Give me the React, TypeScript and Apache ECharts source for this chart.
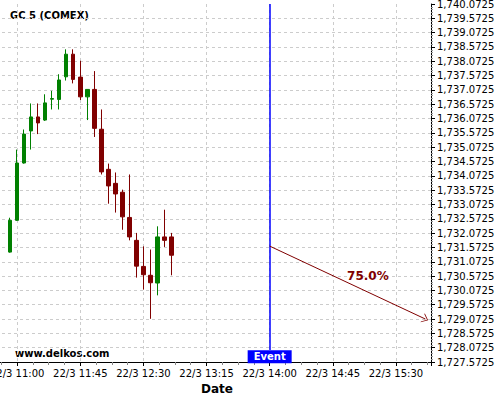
import React, { useEffect, useRef } from "react";
import * as echarts from "echarts";

// 5-minute candles, times on 22/3
const times = ["10:55","11:00","11:05","11:10","11:15","11:20","11:25","11:30","11:35","11:40","11:45","11:50","11:55","12:00","12:05","12:10","12:15","12:20","12:25","12:30","12:35","12:40","12:45","12:50"];
const opens  = [1731.41,1732.52,1734.52,1735.64,1736.13,1736.02,1736.75,1736.74,1737.53,1738.32,1737.52,1736.83,1737.09,1735.70,1734.30,1733.81,1733.50,1732.62,1731.82,1730.91,1730.60,1730.33,1731.94,1731.94];
const closes = [1732.52,1734.52,1735.53,1736.13,1735.92,1736.62,1736.77,1737.42,1738.32,1737.44,1736.83,1737.09,1735.73,1734.21,1733.72,1733.44,1732.64,1731.94,1730.92,1730.62,1730.34,1731.94,1731.82,1731.30];
const lows   = [1731.39,1732.50,1734.50,1734.99,1735.53,1735.99,1736.39,1736.39,1737.40,1737.30,1736.72,1736.02,1735.43,1734.12,1733.10,1732.79,1732.19,1731.82,1730.52,1730.10,1729.08,1729.90,1731.59,1730.60];
const highs  = [1732.61,1734.99,1735.69,1736.60,1736.60,1736.92,1737.04,1737.62,1738.49,1738.49,1738.09,1737.09,1737.73,1736.39,1734.50,1734.19,1733.59,1734.12,1732.08,1731.61,1731.50,1732.31,1732.89,1732.08];

// axis
const yMinPrice = 1727.5725;
const yMaxPrice = 1740.0725;
const yStep = 0.5;
const xStartTime = "10:15";
const xEndTime = "15:55";
const xStepMinutes = 45;
const datePrefix = "22/3 ";

// annotations
const eventTime = "14:00";
const eventLabel = "Event";
const arrowStart = { time: "14:00", price: 1731.62 };
const arrowEnd = { time: "15:51", price: 1729.0725 };
const forecastLabel = "75.0%";
const forecastLabelPos = { time: "15:10", price: 1730.59 };
const titleText = "GC 5 (COMEX)";
const siteText = "www.delkos.com";
const xAxisName = "Date";

const REF = 11 * 60; // 11:00 as x origin
const toMin = (t: string) => {
  const [h, m] = t.split(":").map(Number);
  return h * 60 + m - REF;
};
const fromMin = (v: number) => {
  const t = Math.round(v) + REF;
  const h = Math.floor(t / 60);
  const m = t % 60;
  return `${h}:${m < 10 ? "0" + m : m}`;
};
const py = (p: number) => p - yMinPrice;
const fmtPrice = (v: number) =>
  (v + yMinPrice).toLocaleString("en-US", { minimumFractionDigits: 4, maximumFractionDigits: 4 });

const FONT = "DejaVu Sans";

export default function App() {
  const ref = useRef<HTMLDivElement>(null);
  useEffect(() => {
    if (!ref.current) return;
    const chart = echarts.init(ref.current, undefined, { renderer: "svg" });
    const candleData = times.map((t, i) => [toMin(t), py(opens[i]), py(closes[i]), py(lows[i]), py(highs[i])]);
    chart.setOption({
      animation: false,
      backgroundColor: "#ffffff",
      textStyle: { fontFamily: FONT },
      grid: { left: -46, right: 69, top: 4, bottom: 38, containLabel: false, outerBoundsMode: "none" },
      xAxis: {
        type: "value",
        min: toMin(xStartTime),
        max: toMin(xEndTime),
        interval: xStepMinutes,
        axisLine: { show: true, onZero: false, lineStyle: { color: "#000", width: 1 } },
        axisTick: { show: true, length: 4, lineStyle: { color: "#000" } },
        minorTick: { show: true, splitNumber: 4, length: 3, lineStyle: { color: "#888" } },
        splitLine: { show: true, showMinLine: false, showMaxLine: false, lineStyle: { color: "#cccccc", type: [3, 3], width: 1 } },
        axisLabel: {
          color: "#000",
          fontSize: 10,
          fontFamily: FONT,
          margin: 6,
          showMaxLabel: false,
          hideOverlap: false,
          formatter: (v: number) => datePrefix + fromMin(v),
        },
      },
      yAxis: {
        type: "value",
        position: "right",
        min: 0,
        max: py(yMaxPrice),
        interval: yStep,
        scale: false,
        axisLine: { show: true, onZero: false, lineStyle: { color: "#000", width: 1 } },
        axisTick: { show: true, length: 4, lineStyle: { color: "#000" } },
        minorTick: { show: true, splitNumber: 5, length: 2, lineStyle: { color: "#999" } },
        splitLine: { show: true, showMinLine: false, showMaxLine: false, lineStyle: { color: "#cccccc", type: [3, 3], width: 1 } },
        axisLabel: { color: "#000", fontSize: 10, fontFamily: FONT, margin: 6, formatter: fmtPrice },
      },
      series: [
        {
          type: "candlestick",
          data: candleData,
          encode: { x: 0, y: [1, 2, 3, 4] },
          barWidth: 4,
          itemStyle: {
            color: "#008000",
            color0: "#800000",
            borderColor: "#008000",
            borderColor0: "#800000",
            borderWidth: 1,
          },
          markLine: {
            silent: true,
            animation: false,
            data: [
              [
                { coord: [toMin(eventTime), py(yMaxPrice)], symbol: "none", lineStyle: { color: "#0000ff", width: 1.5, type: "solid" } },
                { coord: [toMin(eventTime), py(1727.9915)], symbol: "none" },
              ],
              [
                { coord: [toMin(arrowStart.time), py(arrowStart.price)], symbol: "none", lineStyle: { color: "#800000", width: 1, type: "solid" } },
                { coord: [toMin(arrowEnd.time), py(arrowEnd.price)], symbol: "path://M0,10 L5,0 L10,10 L9,10 L5,2 L1,10 Z", symbolSize: [10, 6] },
              ],
            ],
            label: { show: false },
          },
          markPoint: {
            silent: true,
            animation: false,
            data: [
              {
                coord: [toMin(eventTime), py(1727.7575)],
                symbol: "rect",
                symbolSize: [44, 13],
                itemStyle: { color: "#0000ff" },
                label: { show: true, position: "inside", formatter: eventLabel, color: "#fff", fontWeight: "bold", fontSize: 10, fontFamily: FONT },
              },
              {
                coord: [toMin(forecastLabelPos.time), py(forecastLabelPos.price)],
                symbol: "rect",
                symbolSize: 1,
                itemStyle: { color: "rgba(0,0,0,0)" },
                label: { show: true, position: "inside", formatter: forecastLabel, color: "#800000", fontWeight: "bold", fontSize: 12, fontFamily: FONT },
              },
            ],
          },
        },
      ],
      graphic: [
        { type: "text", left: 10, top: 10, style: { text: titleText, fill: "#000", font: `bold 10px "${FONT}"` } },
        { type: "text", left: 15, top: 348, style: { text: siteText, fill: "#000", font: `bold 10px "${FONT}"` } },
        { type: "text", left: 201, top: 383, style: { text: xAxisName, fill: "#000", font: `bold 12px "${FONT}"` } },
      ],
    });
    return () => chart.dispose();
  }, []);
  return <div ref={ref} style={{ width: 500, height: 400, position: "absolute", left: 0, top: 0 }} />;
}
